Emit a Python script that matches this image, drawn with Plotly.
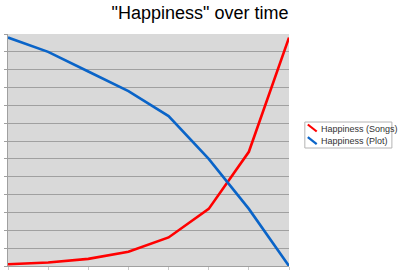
import plotly.graph_objects as go

# ---- data ----
time_points = [0, 1, 2, 3, 4, 5, 6, 7]
songs = [1, 2, 4, 8, 16, 32, 64, 128]
plot_vals = [128, 120, 109, 98, 84, 60, 32, 0]
series_names = ["Happiness (Songs)", "Happiness (Plot)"]
series_colors = ["#ff0000", "#0a64c8"]
title_text = '"Happiness" over time'

W, H = 400, 277
L, R, T, B = 5, 111, 34, 11
pw, ph = W - L - R, H - T - B


def px(xp):
    return (xp - L) / pw


def py(yp):
    return (H - B - yp) / ph


fig = go.Figure()
for name, vals, col in zip(series_names, [songs, plot_vals], series_colors):
    fig.add_trace(go.Scatter(x=time_points, y=vals, mode="lines", name=name,
                             line=dict(color=col, width=2.6), showlegend=False))

fig.update_layout(
    width=W, height=H,
    margin=dict(l=L, r=R, t=T, b=B),
    paper_bgcolor="white",
    plot_bgcolor="#d9d9d9",
    title=dict(text=title_text, x=0.5, xref="container", xanchor="center",
               y=1 - 13 / H, yref="container", yanchor="middle",
               font=dict(family="Liberation Sans", size=18, color="black")),
    xaxis=dict(range=[0, 7], showgrid=False, zeroline=False,
               showline=True, linecolor="#a0a0a0", linewidth=1,
               ticks="outside", ticklen=3, tickcolor="#c8c8c8",
               tickvals=time_points, showticklabels=False, fixedrange=True),
    yaxis=dict(range=[0, 130], dtick=10, showgrid=True, gridcolor="#a0a0a0",
               gridwidth=1, zeroline=False, showline=True, linecolor="#a0a0a0",
               linewidth=1, ticks="outside", ticklen=3, tickcolor="#a0a0a0",
               showticklabels=False, fixedrange=True),
)

# ---- custom legend (box with diagonal swatches) ----
shapes = [dict(type="rect", xref="paper", yref="paper",
               x0=px(305), x1=px(393), y0=py(148), y1=py(122),
               line=dict(color="#b4b4b4", width=1), fillcolor="white", layer="above")]
annotations = []
for i, (name, col) in enumerate(zip(series_names, series_colors)):
    yc = 128.5 + i * 12.7
    shapes.append(dict(type="line", xref="paper", yref="paper",
                       x0=px(308), x1=px(317), y0=py(yc - 4), y1=py(yc + 3),
                       line=dict(color=col, width=2.2), layer="above"))
    annotations.append(dict(text=name, xref="paper", yref="paper",
                            x=px(319), y=py(yc), xanchor="left", yanchor="middle",
                            showarrow=False,
                            font=dict(family="Liberation Sans", size=9, color="#333333")))
fig.update_layout(shapes=shapes, annotations=annotations)

fig.write_html("out.html")
